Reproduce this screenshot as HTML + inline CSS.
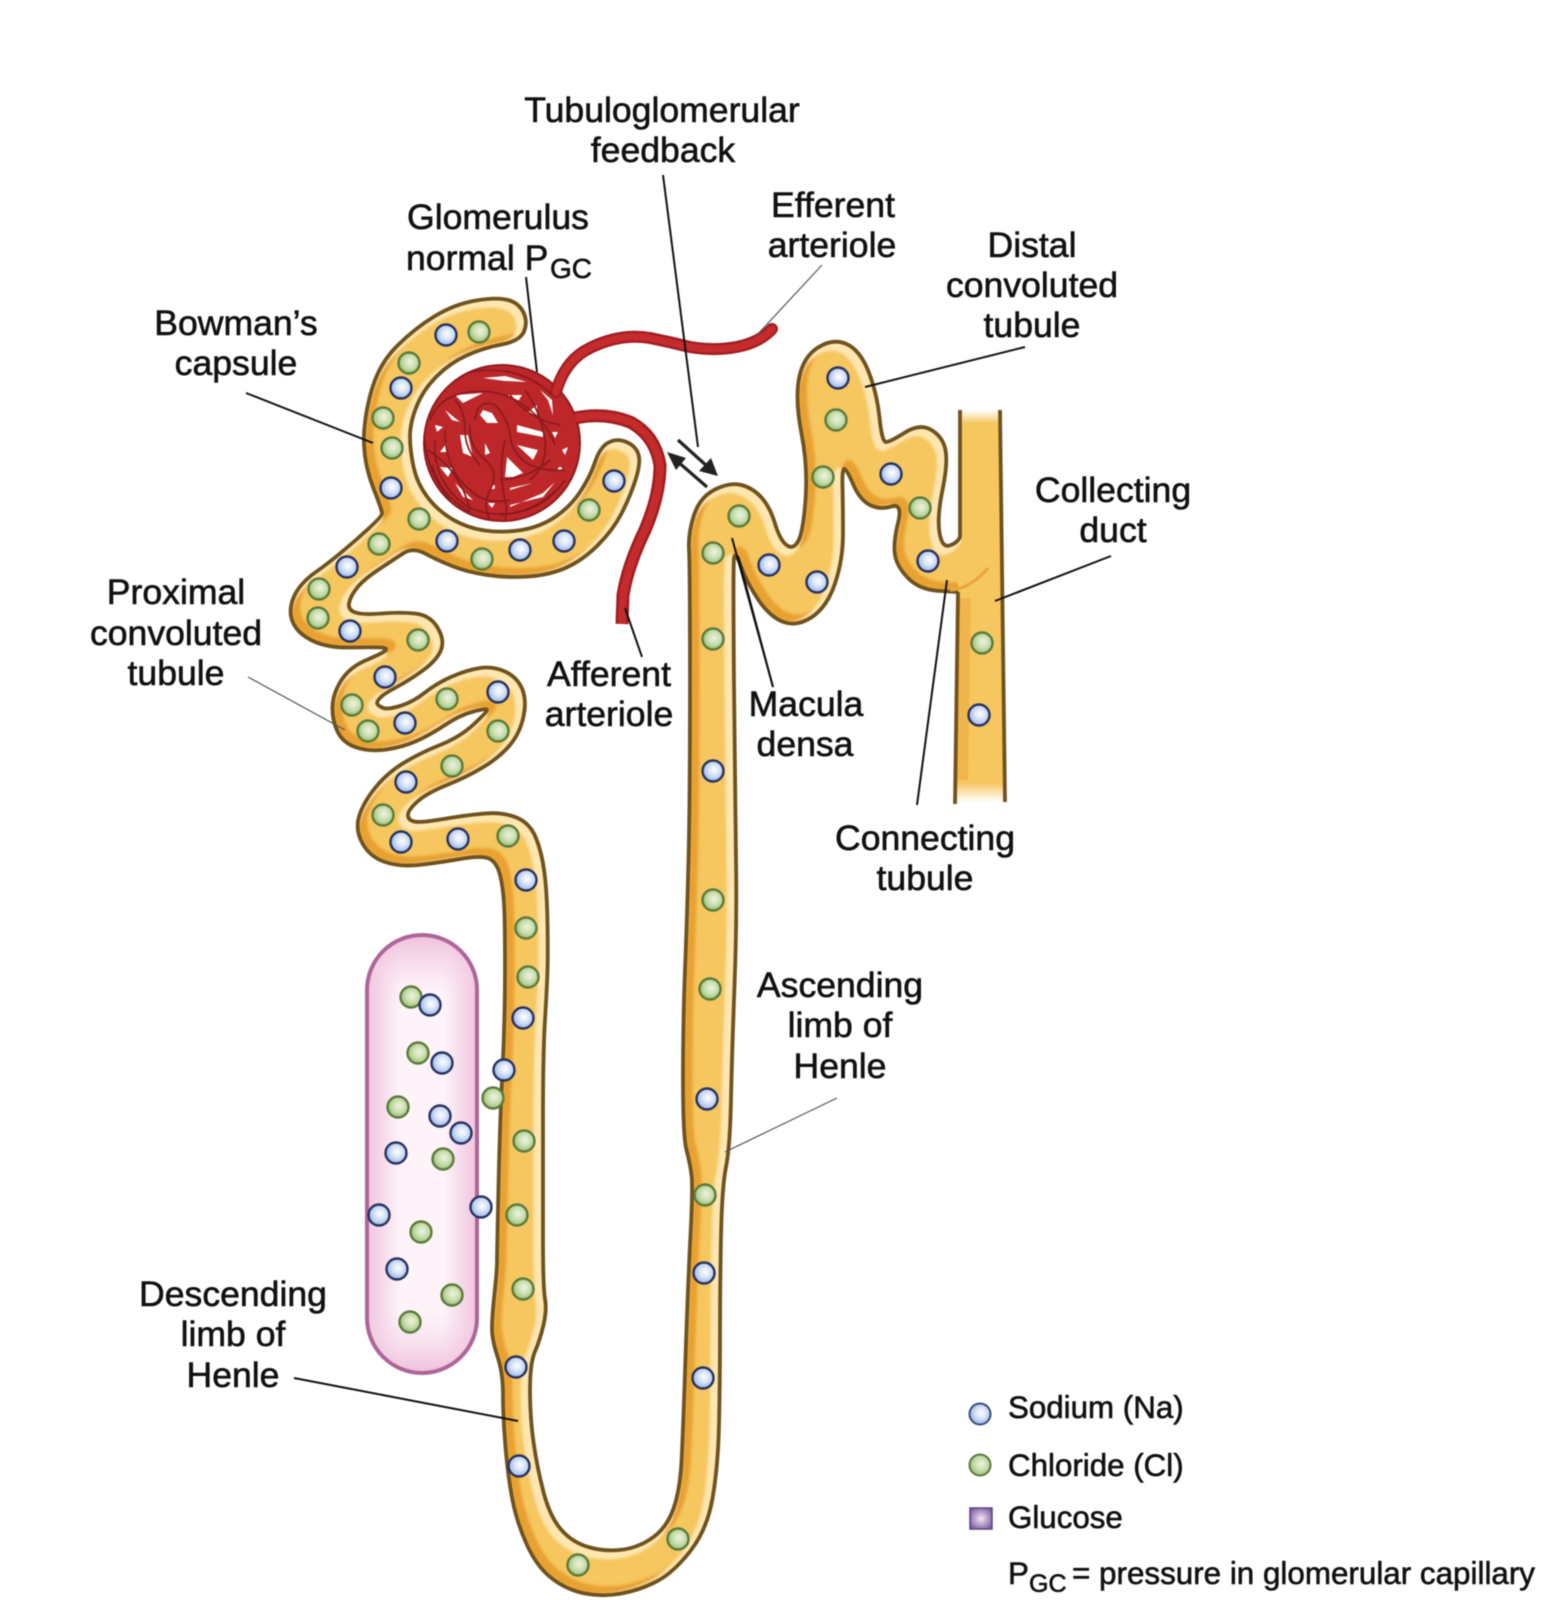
<!DOCTYPE html>
<html lang="en"><head><meta charset="utf-8"><title>Nephron diagram</title>
<style>
html,body{margin:0;padding:0;background:#fff}
svg{display:block;filter:blur(.55px)}
text{font-family:"Liberation Sans",Arial,sans-serif;fill:#111;stroke:#111;stroke-width:.6;font-size:35.6px;text-anchor:middle}
.lg{font-size:31.3px;text-anchor:start}
.sub{font-size:28px;text-anchor:start}
.na{fill:url(#gna);stroke:#27325f;stroke-width:2.4}
.cl{fill:url(#gcl);stroke:#5c7a3c;stroke-width:2.4}
.ld{stroke:#111;stroke-width:2;fill:none}
.ldt{stroke:#555;stroke-width:1.2;fill:none}
.lp{fill:none;stroke:#8a1a1d;stroke-width:1.7}
</style></head><body>
<svg xmlns="http://www.w3.org/2000/svg" width="1543" height="1600" viewBox="0 0 1543 1600">
<defs>
<radialGradient id="gna" cx=".55" cy=".45" r=".6"><stop offset="0" stop-color="#fff"/><stop offset=".45" stop-color="#d6e2f7"/><stop offset="1" stop-color="#8fade0"/></radialGradient>
<radialGradient id="gcl" cx=".55" cy=".45" r=".6"><stop offset="0" stop-color="#f0f3e0"/><stop offset=".5" stop-color="#c9deb0"/><stop offset="1" stop-color="#8fba6c"/></radialGradient>
<linearGradient id="gh" x1="0" x2="1" y1="0" y2="0"><stop offset="0" stop-color="#f0c4de"/><stop offset=".3" stop-color="#fdf3f9"/><stop offset=".7" stop-color="#fdf3f9"/><stop offset="1" stop-color="#f0c4de"/></linearGradient>
<linearGradient id="gv" x1="0" x2="0" y1="0" y2="1"><stop offset="0" stop-color="#eeb9d8" stop-opacity=".9"/><stop offset=".14" stop-color="#f6d9ea" stop-opacity="0"/><stop offset=".86" stop-color="#f6d9ea" stop-opacity="0"/><stop offset="1" stop-color="#eeb9d8" stop-opacity=".9"/></linearGradient>
<linearGradient id="gd" x1="0" x2="0" y1="0" y2="1"><stop offset="0" stop-color="#f6c65f" stop-opacity="0"/><stop offset=".035" stop-color="#f6c65f"/><stop offset=".95" stop-color="#f6c65f"/><stop offset="1" stop-color="#f6c65f" stop-opacity="0"/></linearGradient>
<radialGradient id="gs" cx=".5" cy=".5" r=".6"><stop offset="0" stop-color="#f3e8f5"/><stop offset="1" stop-color="#7d5aa0"/></radialGradient>
<filter id="b1" x="-5%" y="-5%" width="110%" height="110%"><feGaussianBlur stdDeviation="1.3"/></filter>
<path id="t" d="M508 300Q519 303 523.5 312.5Q528 322 524 331.5Q520 341 501.5 344.5Q483 348 466.5 355.5Q450 363 436.5 376.5Q423 390 416.5 406.5Q410 423 410 436.5Q410 450 413.5 466.5Q417 483 427 496.5Q437 510 452 519Q467 528 485 530.5Q503 533 521.5 530Q540 527 555 517Q570 507 580 492Q590 477 595 462Q600 447 608.5 442.5Q617 438 626.5 442Q636 446 638.5 454.5Q641 463 635.5 480Q630 497 621.5 513.5Q613 530 598 545Q583 560 566.5 567.5Q550 575 528.5 576.5Q507 578 487 575Q467 572 452 566Q437 560 425 553.5Q413 547 403 553.5Q393 560 378 570Q363 580 356.5 588.5Q350 597 349 603.5Q348 610 355.5 612.5Q363 615 381.5 613.5Q400 612 415 613.5Q430 615 437.5 627.5Q445 640 441 650Q437 660 423.5 670Q410 680 394 688.5Q378 697 377 703Q377 705 382 707.5Q387 710 400 706Q413 702 425 692.5Q437 683 452 676.5Q467 670 480 668Q493 666 505 671.5Q517 677 522 688.5Q527 700 523.5 716.5Q520 733 510 745Q500 757 483.5 767Q467 777 447 785Q427 793 417.5 801.5Q408 810 408 815Q408 820 414 821.5Q420 823 443.5 819Q467 815 485 813.5Q503 812 516.5 817.5Q530 823 536 838Q542 853 544.5 873Q547 893 547.5 923Q548 953 547.5 970Q547 987 545 1020Q543 1053 543 1120Q543 1187 543 1237Q543 1287 545 1298.5Q547 1310 543.5 1325Q540 1340 535 1351.5Q530 1363 530 1390Q530 1417 533.5 1442Q537 1467 543.5 1492Q550 1517 561.5 1530Q573 1543 590 1547.5Q607 1552 623.5 1549.5Q640 1547 653.5 1537Q667 1527 673.5 1508.5Q680 1490 681.5 1461.5Q683 1433 685.5 1358Q688 1283 690.5 1235Q693 1187 691.5 1175Q690 1163 686.5 1150Q683 1137 683 1078.5Q683 1020 685 970Q687 920 688.5 860Q690 800 690 683.5Q690 567 689 550Q688 533 694 515Q700 497 715 489.5Q730 482 741.5 485Q753 488 761.5 497.5Q770 507 775 523.5Q780 540 786.5 545Q793 550 798 541.5Q803 533 805.5 500Q808 467 801.5 433.5Q795 400 799 378.5Q803 357 818 347.5Q833 338 846.5 344Q860 350 868.5 371.5Q877 393 879.5 417.5Q882 442 886 442Q890 442 905 432.5Q920 423 931.5 430Q943 437 945.5 450Q948 463 942.5 490Q937 517 939.5 532.5Q942 548 949.5 545.5Q957 543 959.5 538Q962 533 975 533L975 592L957 592L940 591Q920 590 908.5 578.5Q897 567 895 555Q893 543 898 523Q903 503 891.5 506.5Q880 510 870 505Q860 500 853.5 485Q847 470 844.5 469Q842 468 842.5 487.5Q843 507 843 533.5Q843 560 835 583.5Q827 607 812 617Q797 627 783.5 622Q770 617 758.5 600Q747 583 741 566.5Q735 550 734 558.5Q733 567 734 683.5Q735 800 736 860Q737 920 734.5 986.5Q732 1053 731 1100Q730 1147 726 1167Q722 1187 721 1237Q720 1287 720 1335Q720 1383 719 1425Q718 1467 712.5 1498.5Q707 1530 690 1551.5Q673 1573 656.5 1581.5Q640 1590 621.5 1593.5Q603 1597 585 1593.5Q567 1590 552 1578.5Q537 1567 527 1545Q517 1523 512.5 1500Q508 1477 505.5 1447Q503 1417 503 1395Q503 1373 497.5 1356.5Q492 1340 492 1328.5Q492 1317 494.5 1293.5Q497 1270 497 1261.5Q497 1253 498.5 1186.5Q500 1120 502.5 1070Q505 1020 505 970Q505 920 504 903.5Q503 887 500 875Q497 863 490 859Q483 855 460 859Q437 863 418.5 865Q400 867 385 862Q370 857 362.5 843.5Q355 830 359 816.5Q363 803 375 788Q387 773 403.5 763Q420 753 440 745Q460 737 473.5 724.5Q487 712 487 710Q487 708 473.5 711.5Q460 715 445 725Q430 735 416.5 741Q403 747 386.5 749.5Q370 752 356.5 747.5Q343 743 337.5 731.5Q332 720 332.5 706.5Q333 693 341.5 680Q350 667 366.5 660Q383 653 385.5 650.5Q388 648 380.5 647.5Q373 647 350 647.5Q327 648 312 640.5Q297 633 292.5 621.5Q288 610 294 596.5Q300 583 316.5 571.5Q333 560 357.5 538.5Q382 517 382 513.5Q382 510 373.5 488.5Q365 467 364 445Q363 423 370.5 394Q378 365 396.5 346.5Q415 328 435 316Q455 304 476 300.5Q497 297 508 300Z"/>
<clipPath id="ct"><use href="#t"/></clipPath>
<clipPath id="cg"><circle cx="502" cy="443" r="78"/></clipPath>
</defs>
<rect width="1543" height="1600" fill="#fff"/>

<!-- capillary -->
<rect x="367" y="935" width="110" height="438" rx="55" fill="url(#gh)"/>
<rect x="367" y="935" width="110" height="438" rx="55" fill="url(#gv)" stroke="#ad6699" stroke-width="4"/>

<!-- collecting duct fill -->
<polygon points="960,410 1000,410 1005,802 955,802" fill="url(#gd)"/>
<polygon points="958,592 971,592 968,780 957,780" fill="#eeae44" opacity=".7"/>

<!-- tubule -->
<use href="#t" fill="#f6c65f"/>
<g clip-path="url(#ct)">
<g filter="url(#b1)">
<use href="#t" fill="none" stroke="#e8a233" stroke-width="10" transform="translate(4.5,-4)"/>
<use href="#t" fill="none" stroke="#fde6b0" stroke-width="10" transform="translate(-4.5,4)"/>
</g>
</g>
<use href="#t" fill="none" stroke="#6f521d" stroke-width="3.8" stroke-linejoin="round"/>

<!-- duct patch + lines -->
<polygon points="961.5,525 998,525 999,598 958,598 958,574 961.5,541" fill="#f6c65f"/>
<path d="M950 590Q970 589 988 568" fill="none" stroke="#e9a63a" stroke-width="3"/>
<path d="M960 537L960 410M958 592L955 804M1000 410L1005 802" fill="none" stroke="#6f521d" stroke-width="3.8"/>

<!-- glomerulus -->
<circle cx="502" cy="443" r="78" fill="#bd272a" stroke="#8f1b1e" stroke-width="2"/>
<g fill="#fff">
<polygon points="483,378 505,376 527,382 505,381"/>
<polygon points="455,395 483,393 463,403"/>
<polygon points="508,395 522,395 517,403"/>
<polygon points="540,390 552,400 553,415 548,400"/>
<polygon points="527,413 537,405 537,415"/>
<polygon points="445,410 460,422 452,420"/>
<polygon points="483,410 492,413 498,423 487,423 480,415"/>
<polygon points="517,425 543,432 543,437 517,432"/>
<polygon points="552,432 558,432 555,438"/>
<polygon points="435,425 443,427 437,432"/>
<polygon points="460,435 468,435 473,457 463,453"/>
<polygon points="440,452 447,443 447,452"/>
<polygon points="517,445 538,450 533,460"/>
<polygon points="562,450 568,447 565,455"/>
<polygon points="485,443 490,453 485,455"/>
<polygon points="507,457 523,473 513,477 505,477"/>
<polygon points="440,467 453,468 448,477"/>
<polygon points="455,483 473,500 463,497"/>
<polygon points="510,488 533,483 510,490"/>
<polygon points="510,505 543,497 555,482 543,493 510,507"/>
<polygon points="488,503 495,503 492,508"/>
<circle cx="560" cy="469" r="2"/><circle cx="493" cy="487" r="2"/>
</g>
<g clip-path="url(#cg)">
<path class="lp" d="M430 420Q440 395 470 392Q505 388 530 410Q548 425 555 445"/>
<path class="lp" d="M475 420Q478 398 495 405Q508 418 510 435Q512 455 530 465Q548 472 565 470"/>
<path class="lp" d="M470 425Q468 445 485 460Q500 472 490 490Q482 505 490 520"/>
<path class="lp" d="M445 430Q445 470 470 490Q485 505 510 500"/>
<path class="lp" d="M435 440Q432 480 465 505Q485 518 520 512Q548 505 565 480"/>
<path class="lp" d="M455 400Q465 410 465 430Q465 450 480 465"/>
<path class="lp" d="M510 395Q530 420 560 425"/>
<path class="lp" d="M525 390Q540 410 545 440Q548 465 530 480"/>
<path class="lp" d="M505 440Q498 470 505 500Q508 510 505 520"/>
<path class="lp" d="M500 480Q530 478 550 460"/>
<path class="lp" d="M428 450Q460 470 470 510"/>
<path class="lp" d="M500 515Q535 512 556 490"/>
<path class="lp" d="M440 385Q470 365 510 372Q535 378 552 395"/>
<path class="lp" d="M432 465Q440 495 470 512"/>
<path class="lp" d="M424 430Q425 470 450 500"/>
</g>

<!-- arterioles -->
<path d="M556 392Q565 360 590 348Q620 333 650 338Q670 342 690 347Q720 352 745 345Q762 340 772 329" fill="none" stroke="#a01d20" stroke-width="12" stroke-linecap="round"/>
<path d="M556 392Q565 360 590 348Q620 333 650 338Q670 342 690 347Q720 352 745 345Q762 340 772 329" fill="none" stroke="#c42b2c" stroke-width="7.5" stroke-linecap="round"/>
<path d="M575 418Q605 412 630 422Q655 435 660 465Q660 495 645 530Q628 565 623 595L622 624" fill="none" stroke="#a01d20" stroke-width="13"/>
<path d="M575 418Q605 412 630 422Q655 435 660 465Q660 495 645 530Q628 565 623 595L622 624" fill="none" stroke="#c42b2c" stroke-width="8"/>

<!-- ions -->
<g>
<circle class="na" cx="446" cy="335" r="10.5"/><circle class="na" cx="401" cy="388" r="10.5"/><circle class="na" cx="391" cy="488" r="10.5"/><circle class="na" cx="447" cy="541" r="10.5"/><circle class="na" cx="520" cy="550" r="10.5"/><circle class="na" cx="564" cy="541" r="10.5"/><circle class="na" cx="614" cy="481" r="10.5"/><circle class="na" cx="347" cy="567" r="10.5"/><circle class="na" cx="350" cy="631" r="10.5"/><circle class="na" cx="385" cy="677" r="10.5"/><circle class="na" cx="405" cy="723" r="10.5"/><circle class="na" cx="498" cy="692" r="10.5"/><circle class="na" cx="406" cy="782" r="10.5"/><circle class="na" cx="401" cy="842" r="10.5"/><circle class="na" cx="458" cy="839" r="10.5"/><circle class="na" cx="526" cy="880" r="10.5"/><circle class="na" cx="523" cy="1018" r="10.5"/><circle class="na" cx="707" cy="1099" r="10.5"/><circle class="na" cx="704" cy="1273" r="10.5"/><circle class="na" cx="516" cy="1367" r="10.5"/><circle class="na" cx="519" cy="1466" r="10.5"/><circle class="na" cx="703" cy="1378" r="10.5"/><circle class="na" cx="838" cy="378" r="10.5"/><circle class="na" cx="891" cy="474" r="10.5"/><circle class="na" cx="769" cy="565" r="10.5"/><circle class="na" cx="817" cy="582" r="10.5"/><circle class="na" cx="928" cy="561" r="10.5"/><circle class="na" cx="979" cy="715" r="10.5"/><circle class="na" cx="713" cy="771" r="10.5"/>
<circle class="cl" cx="479" cy="332" r="10.5"/><circle class="cl" cx="409" cy="363" r="10.5"/><circle class="cl" cx="383" cy="418" r="10.5"/><circle class="cl" cx="392" cy="448" r="10.5"/><circle class="cl" cx="419" cy="519" r="10.5"/><circle class="cl" cx="379" cy="544" r="10.5"/><circle class="cl" cx="482" cy="559" r="10.5"/><circle class="cl" cx="589" cy="510" r="10.5"/><circle class="cl" cx="319" cy="589" r="10.5"/><circle class="cl" cx="318" cy="618" r="10.5"/><circle class="cl" cx="418" cy="640" r="10.5"/><circle class="cl" cx="352" cy="705" r="10.5"/><circle class="cl" cx="368" cy="731" r="10.5"/><circle class="cl" cx="447" cy="699" r="10.5"/><circle class="cl" cx="498" cy="731" r="10.5"/><circle class="cl" cx="452" cy="766" r="10.5"/><circle class="cl" cx="383" cy="815" r="10.5"/><circle class="cl" cx="508" cy="836" r="10.5"/><circle class="cl" cx="526" cy="928" r="10.5"/><circle class="cl" cx="528" cy="977" r="10.5"/><circle class="cl" cx="411" cy="997" r="10.5"/><circle class="cl" cx="418" cy="1053" r="10.5"/><circle class="cl" cx="398" cy="1107" r="10.5"/><circle class="cl" cx="493" cy="1098" r="10.5"/><circle class="cl" cx="443" cy="1159" r="10.5"/><circle class="cl" cx="524" cy="1141" r="10.5"/><circle class="cl" cx="517" cy="1215" r="10.5"/><circle class="cl" cx="421" cy="1232" r="10.5"/><circle class="cl" cx="452" cy="1295" r="10.5"/><circle class="cl" cx="523" cy="1289" r="10.5"/><circle class="cl" cx="410" cy="1322" r="10.5"/><circle class="cl" cx="710" cy="989" r="10.5"/><circle class="cl" cx="705" cy="1195" r="10.5"/><circle class="cl" cx="578" cy="1565" r="10.5"/><circle class="cl" cx="678" cy="1539" r="10.5"/><circle class="cl" cx="836" cy="420" r="10.5"/><circle class="cl" cx="823" cy="477" r="10.5"/><circle class="cl" cx="920" cy="508" r="10.5"/><circle class="cl" cx="739" cy="516" r="10.5"/><circle class="cl" cx="713" cy="553" r="10.5"/><circle class="cl" cx="713" cy="639" r="10.5"/><circle class="cl" cx="982" cy="643" r="10.5"/><circle class="cl" cx="713" cy="900" r="10.5"/>
<circle class="na" cx="430" cy="1005" r="10.5"/><circle class="na" cx="442" cy="1063" r="10.5"/><circle class="na" cx="504" cy="1070" r="10.5"/><circle class="na" cx="440" cy="1116" r="10.5"/><circle class="na" cx="461" cy="1133" r="10.5"/><circle class="na" cx="396" cy="1153" r="10.5"/><circle class="na" cx="481" cy="1207" r="10.5"/><circle class="na" cx="379" cy="1215" r="10.5"/><circle class="na" cx="397" cy="1269" r="10.5"/>
</g>

<!-- leader lines -->
<path class="ld" d="M526 277L537 372"/>
<path class="ld" d="M663 175L698 447"/>
<path class="ldt" d="M822 265L757 335"/>
<path class="ld" d="M1025 347L865 387"/>
<path class="ld" d="M1111 556L995 601"/>
<path class="ld" d="M947 580L917 805"/>
<path class="ld" d="M732 538L773 687"/>
<path class="ld" d="M738 556L773 687" stroke-width="1.2"/>
<path class="ld" d="M625 608L642 657"/>
<path class="ld" d="M246 393L373 443"/>
<path class="ldt" d="M248 677L345 730"/>
<path class="ldt" d="M837 1098L725 1152"/>
<path class="ld" d="M294 1378L518 1421"/>

<!-- feedback arrows -->
<path d="M678 440L708 467" stroke="#222" stroke-width="3.2"/>
<polygon points="718,476 711,458 699,471" fill="#222"/>
<path d="M707 487L677 461" stroke="#222" stroke-width="3.2"/>
<polygon points="667,452 686,458 676,470" fill="#222"/>

<!-- labels -->
<text x="662" y="122">Tubuloglomerular</text><text x="663" y="162">feedback</text>
<text x="498" y="229">Glomerulus</text>
<text x="406" y="270" style="text-anchor:start">normal P</text><text class="sub" x="550" y="278">GC</text>
<text x="833" y="217">Efferent</text><text x="832" y="257">arteriole</text>
<text x="236" y="335">Bowman’s</text><text x="236" y="375">capsule</text>
<text x="1032" y="257">Distal</text><text x="1032" y="297">convoluted</text><text x="1032" y="337">tubule</text>
<text x="1113" y="502">Collecting</text><text x="1113" y="542">duct</text>
<text x="176" y="604">Proximal</text><text x="176" y="645">convoluted</text><text x="176" y="685">tubule</text>
<text x="609" y="686">Afferent</text><text x="609" y="726">arteriole</text>
<text x="806" y="716">Macula</text><text x="805" y="756">densa</text>
<text x="925" y="850">Connecting</text><text x="925" y="890">tubule</text>
<text x="840" y="997">Ascending</text><text x="840" y="1037">limb of</text><text x="840" y="1078">Henle</text>
<text x="233" y="1306">Descending</text><text x="233" y="1346">limb of</text><text x="233" y="1387">Henle</text>

<!-- legend -->
<circle cx="980" cy="1414" r="10.5" fill="url(#gna)" stroke="#3a4d80" stroke-width="2"/>
<circle cx="980" cy="1465" r="10.5" fill="url(#gcl)" stroke="#5c7a3c" stroke-width="2"/>
<rect x="970" y="1508" width="22" height="21" fill="url(#gs)" stroke="#5e4285" stroke-width="1.5"/>
<text class="lg" x="1008" y="1418">Sodium (Na)</text>
<text class="lg" x="1008" y="1476">Chloride (Cl)</text>
<text class="lg" x="1008" y="1528">Glucose</text>
<text class="lg" x="1008" y="1584">P</text><text class="sub" x="1029" y="1592" style="font-size:25px">GC</text>
<text class="lg" x="1072" y="1584" textLength="463" lengthAdjust="spacingAndGlyphs">= pressure in glomerular capillary</text>
</svg>
</body></html>
